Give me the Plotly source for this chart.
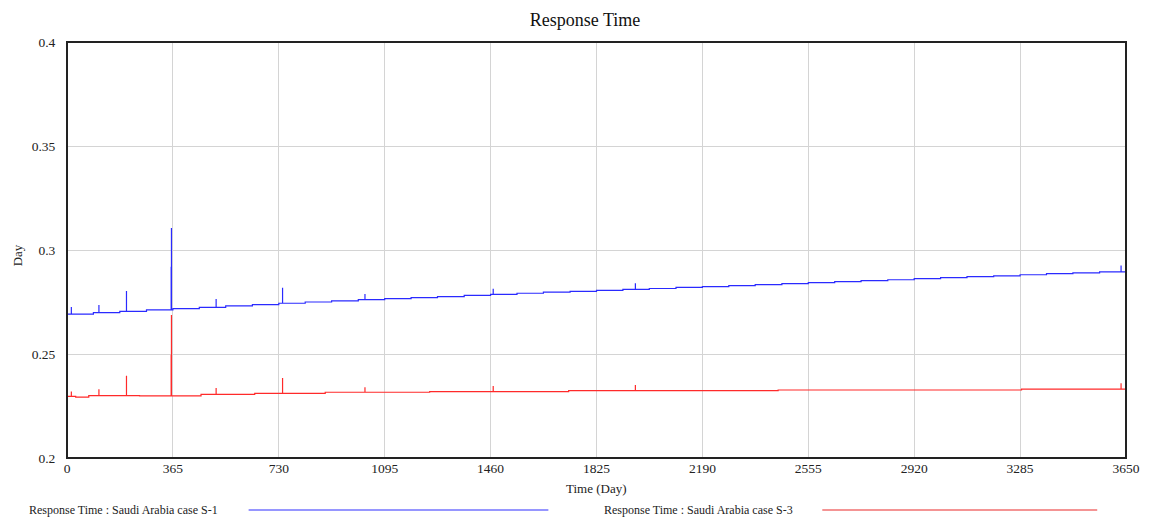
import plotly.graph_objects as go

# ---------------- data ----------------
x_ticks = [0, 365, 730, 1095, 1460, 1825, 2190, 2555, 2920, 3285, 3650]
y_ticks = [0.2, 0.25, 0.3, 0.35, 0.4]

# S-1 (blue) baseline: step times and values
s1_step_t = [0, 91, 182, 274, 365, 456, 547, 639, 730, 821, 912, 1004, 1095, 1186,
             1277, 1369, 1460, 1551, 1642, 1734, 1825, 1916, 2007, 2099, 2190, 2281,
             2372, 2464, 2555, 2646, 2737, 2829, 2920, 3011, 3102, 3194, 3285, 3376,
             3467, 3559, 3650]
s1_step_v = [0.2692, 0.2699, 0.2705, 0.2712, 0.2718, 0.2724, 0.2731, 0.2737, 0.2744,
             0.2750, 0.2755, 0.2761, 0.2766, 0.2771, 0.2776, 0.2782, 0.2787, 0.2792,
             0.2797, 0.2801, 0.2806, 0.2811, 0.2815, 0.2820, 0.2824, 0.2829, 0.2834,
             0.2838, 0.2843, 0.2848, 0.2853, 0.2857, 0.2862, 0.2867, 0.2872, 0.2876,
             0.2881, 0.2886, 0.2890, 0.2895, 0.2899]

# S-3 (red) baseline: step times and values
s3_step_t = [0, 30, 75, 250, 462, 647, 890, 1250, 1729, 2451, 3290, 3650]
s3_step_v = [0.2296, 0.2293, 0.2300, 0.2299, 0.2306, 0.2311, 0.2316, 0.2319,
             0.2324, 0.2327, 0.2331, 0.2331]

# spikes: times and peak values
spike_t = [15, 110, 205, 359, 360, 514, 743, 1027, 1469, 1959, 3633]
s1_spike_peak = [0.2726, 0.2736, 0.2803, 0.2920, 0.3106, 0.2765, 0.2818, 0.2788,
                 0.2814, 0.2840, 0.2925]
s3_spike_peak = [0.2320, 0.2330, 0.2395, 0.2495, 0.2688, 0.2337, 0.2385, 0.2340,
                 0.2346, 0.2351, 0.2359]

name_s1 = "Response Time : Saudi Arabia case S-1"
name_s3 = "Response Time : Saudi Arabia case S-3"


def build(step_t, step_v, sp_t, sp_peak):
    def base(t):
        v = step_v[0]
        for st, sv in zip(step_t, step_v):
            if st <= t:
                v = sv
        return v
    events = [(t, 0, v, None) for t, v in zip(step_t, step_v)]
    events += [(t, 1, base(t), p) for t, p in zip(sp_t, sp_peak)]
    events.sort(key=lambda e: (e[0], e[1]))
    xs, ys = [], []
    for t, kind, b, p in events:
        if kind == 0:
            xs.append(t); ys.append(b)
        else:
            xs += [t, t, t]; ys += [b, p, b]
    return xs, ys


x1, y1 = build(s1_step_t, s1_step_v, spike_t, s1_spike_peak)
x3, y3 = build(s3_step_t, s3_step_v, spike_t, s3_spike_peak)

BLUE = "#2a2aff"
RED = "#ff2a2a"
FONT = "Liberation Serif, Times New Roman, serif"

fig = go.Figure()
fig.add_trace(go.Scatter(x=x1, y=y1, mode="lines", line_shape="hv",
                         line=dict(color=BLUE, width=1.2), name=name_s1,
                         showlegend=False))
fig.add_trace(go.Scatter(x=x3, y=y3, mode="lines", line_shape="hv",
                         line=dict(color=RED, width=1.2), name=name_s3,
                         showlegend=False))

L, R, T, B = 67, 1134, 42, 458
W, H = 1152, 518


def px(xp):
    return (xp - L) / (R - L)


def py(yp):
    return (B - yp) / (B - T)


fig.update_layout(
    width=W, height=H,
    margin=dict(l=L, r=W - R, t=T, b=H - B, pad=0),
    paper_bgcolor="white", plot_bgcolor="white",
    font=dict(family=FONT, size=13, color="#222"),
    title=dict(text="Response Time", x=585 / W, xref="container", xanchor="center",
               y=1 - 20 / H, yref="container", yanchor="middle",
               font=dict(family=FONT, size=18, color="#111")),
    xaxis=dict(range=[0, 3650], tickvals=x_ticks, ticktext=[str(v) for v in x_ticks],
               showgrid=True, gridcolor="#d4d4d4", gridwidth=1,
               zeroline=False, showline=False, ticks="",
               tickfont=dict(family=FONT, size=13.5, color="#222")),
    yaxis=dict(range=[0.2, 0.4], tickvals=y_ticks, ticktext=["0.2", "0.25", "0.3", "0.35", "0.4"],
               showgrid=True, gridcolor="#d4d4d4", gridwidth=1,
               zeroline=False, showline=False, ticks="outside", ticklen=8,
               tickcolor="rgba(0,0,0,0)",
               tickfont=dict(family=FONT, size=13.5, color="#222")),
    showlegend=False,
)

# frame
fig.add_shape(type="rect", xref="paper", yref="paper", x0=0, x1=1, y0=0, y1=1,
              line=dict(color="#222", width=2), fillcolor="rgba(0,0,0,0)", layer="above")

# axis titles
fig.add_annotation(text="Time (Day)", xref="paper", yref="paper", x=px(600), y=py(488),
                   xanchor="center", yanchor="middle",
                   showarrow=False, font=dict(family=FONT, size=13, color="#222"))
fig.add_annotation(text="Day", xref="paper", yref="paper", x=px(17), y=py(255),
                   xanchor="center", yanchor="middle",
                   showarrow=False, textangle=-90, font=dict(family=FONT, size=13, color="#222"))

# legend rows
fig.add_annotation(text=name_s1, xref="paper", yref="paper", x=px(27), y=py(510),
                   xanchor="left", yanchor="middle",
                   showarrow=False, font=dict(family=FONT, size=12, color="#222"))
fig.add_shape(type="line", xref="paper", yref="paper", x0=px(250), x1=px(552),
              y0=py(510), y1=py(510), line=dict(color="#7373ff", width=1.5))
fig.add_annotation(text=name_s3, xref="paper", yref="paper", x=px(606), y=py(510),
                   xanchor="left", yanchor="middle",
                   showarrow=False, font=dict(family=FONT, size=12, color="#222"))
fig.add_shape(type="line", xref="paper", yref="paper", x0=px(828), x1=px(1105),
              y0=py(510), y1=py(510), line=dict(color="#f07070", width=1.5))

fig.write_html("out.html")
